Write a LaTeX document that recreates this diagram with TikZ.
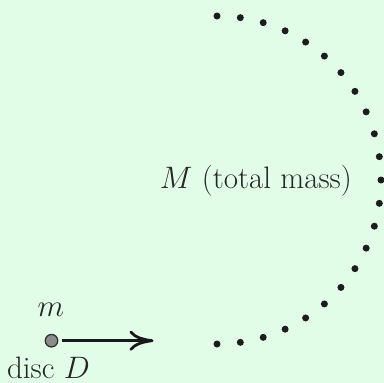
\RequirePackage{fix-cm}
\documentclass[tikz,border=0pt]{standalone}
\usetikzlibrary{arrows.meta}
\definecolor{bg}{RGB}{226,253,231}
\definecolor{dotc}{RGB}{28,28,28}
\definecolor{discfill}{RGB}{140,140,140}
\begin{document}
\begin{tikzpicture}[x=1pt,y=-1pt,
  lbl/.style={inner sep=0pt,font=\fontsize{31}{37}\selectfont,text=black!85},
  massdot/.style={circle,fill=dotc,inner sep=0pt,minimum size=7pt},
  disc/.style={circle,draw=black!80,fill=discfill,line width=1.3pt,inner sep=0pt,minimum size=12.5pt}]
\fill[bg] (0,0) rectangle (384,383);
\useasboundingbox (0,0) rectangle (384,383);
\foreach \i in {0,...,22}{
  \pgfmathsetmacro{\a}{90-\i*180/22}
  \node[massdot] (d\i) at ({217+164*cos(\a)},{180-164*sin(\a)}) {};
}
\node[lbl,anchor=base east] (M) at (352,188) {$M$ (total mass)};
\node[disc] (m0) at (51.5,340.7) {};
\node[lbl,anchor=base] (mlab) at (51,316) {$m$};
\node[lbl,anchor=base] (dlab) at (48.5,378) {disc $D$};
\coordinate (tip) at (153.5,340.7);
\draw[line width=3pt,black!90,-{Computer Modern Rightarrow[length=24pt,width=20pt,line width=2.8pt]}] (m0.east) ++(4,0) -- (tip);
\end{tikzpicture}
\end{document}
